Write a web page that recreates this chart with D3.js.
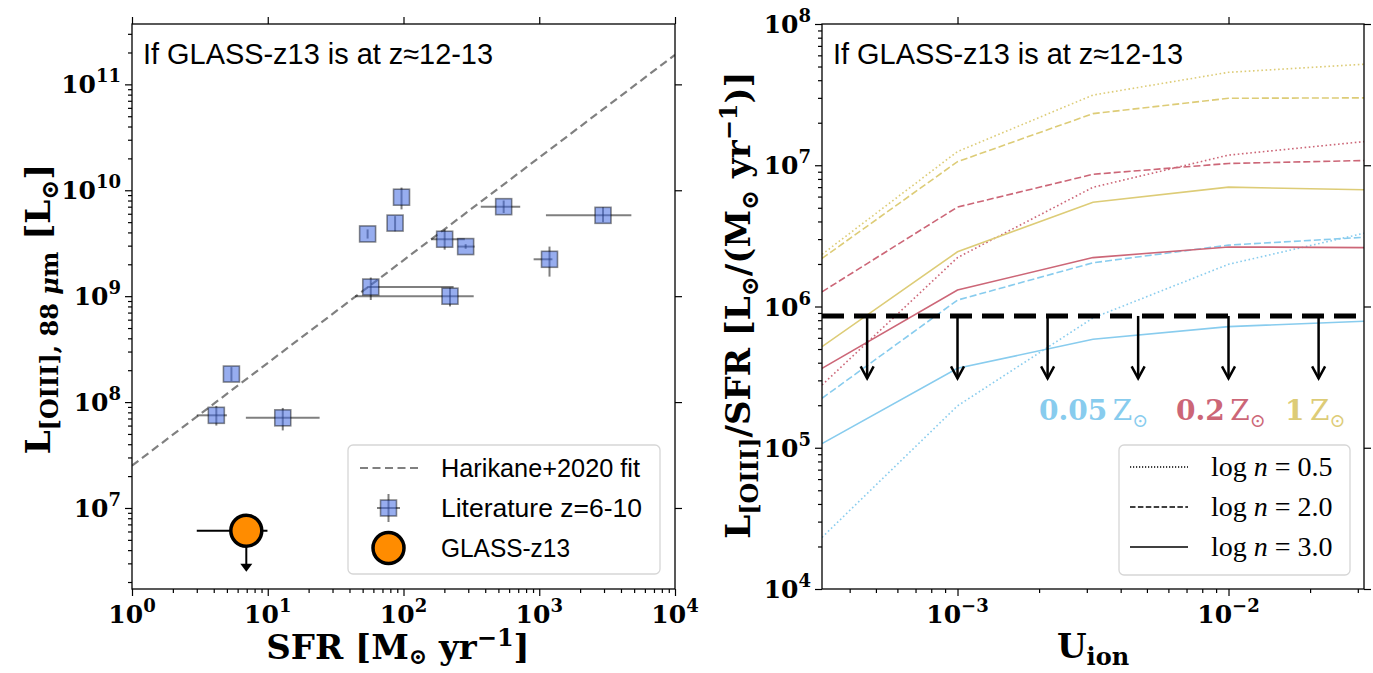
<!DOCTYPE html>
<html>
<head>
<meta charset="utf-8">
<script src="https://cdn.jsdelivr.net/npm/d3@7"></script>
<style>
body { margin: 0; background: #fff; }
</style>
</head>
<body>
<script>
var W = 1373, H = 673;

// ---- left panel: [OIII]88 vs SFR, literature z=6-10 ----
var litSFR   = [4.18, 5.40, 12.9, 54.4, 86.7, 96.7, 57.4, 220, 201, 287, 547, 1190, 2950];
var litSFRlo = [3.0, 5.40, 6.9, 54.4, 86.7, 96.7, 54, 44, 160, 251, 371, 909, 1120];
var litSFRhi = [5.0, 5.40, 24.1, 54.4, 86.7, 96.7, 234, 329, 283, 334, 724, 1250, 4770];
var litL     = [7.5e7, 1.84e8, 7.1e7, 3.87e9, 4.9e9, 8.6e9, 1.22e9, 1.0e9, 3.45e9, 2.94e9, 7.0e9, 2.23e9, 5.8e9];
var litLlo   = [6.0e7, 1.58e8, 5.4e7, 3.5e9, 4.1e9, 6.6e9, 9.2e8, 8.0e8, 2.75e9, 2.8e9, 6.1e9, 1.53e9, 5.0e9];
var litLhi   = [9.2e7, 2.14e8, 8.8e7, 4.27e9, 5.7e9, 1.06e10, 1.5e9, 1.2e9, 4.27e9, 3.1e9, 8.0e9, 2.94e9, 6.9e9];

// GLASS-z13 upper limit
var glassSFR = [6.95], glassSFRlo = [3.0], glassSFRhi = [9.95];
var glassL = [6.1e6], glassLlim = [2.5e6];

// Harikane+2020 fit end points
var fitSFR = [1, 1e4];
var fitL = [2.51e7, 1.9e11];

var xTicksL = [1, 10, 100, 1000, 1e4];
var yTicksL = [1e7, 1e8, 1e9, 1e10, 1e11];

// ---- right panel: L[OIII]/SFR vs U_ion ----
var uIon = [3.162e-4, 1e-3, 3.162e-3, 1e-2, 3.162e-2];
var blueN05 = [2.32e4, 1.98e5, 8.3e5, 1.99e6, 3.3e6];
var blueN20 = [2.24e5, 1.11e6, 2.04e6, 2.72e6, 3.09e6];
var blueN30 = [1.07e5, 3.65e5, 5.86e5, 7.2e5, 7.86e5];
var redN05  = [2.78e5, 2.22e6, 6.98e6, 1.18e7, 1.47e7];
var redN20  = [1.27e6, 5.06e6, 8.63e6, 1.03e7, 1.08e7];
var redN30  = [3.65e5, 1.31e6, 2.22e6, 2.64e6, 2.61e6];
var sandN05 = [2.34e6, 1.25e7, 3.14e7, 4.55e7, 5.19e7];
var sandN20 = [2.19e6, 1.06e7, 2.32e7, 2.98e7, 3.0e7];
var sandN30 = [5.2e5, 2.44e6, 5.47e6, 7.0e6, 6.7e6];

var metalLabels = ["0.05", "0.2", "1"];
var metalColors = ["#88ccee", "#cc6677", "#ddcc77"];
var densLabels = ["0.5", "2.0", "3.0"];
var densDash = ["1.6,2.6", "7,3", null];

var glassRatio = [8.57e5];
var arrowU = [4.64e-4, 1e-3, 2.15e-3, 4.64e-3, 1e-2, 2.15e-2];
var arrowEnd = 3.1e5;

var xTicksR = [1e-3, 1e-2];
var yTicksR = [1e4, 1e5, 1e6, 1e7, 1e8];

var series = [
  [blueN05, blueN20, blueN30],
  [redN05, redN20, redN30],
  [sandN05, sandN20, sandN30]
];

var mySVG = d3.select("body").append("svg")
  .attr("width", W).attr("height", H)
  .style("font-family", "DejaVu Serif");

var xL = d3.scaleLog().domain([1, 1e4]).range([132, 675]);
var yL = d3.scaleLog().domain([1.718e6, 3.715e11]).range([589, 24]);
var xR = d3.scaleLog().domain([3.162e-4, 3.162e-2]).range([822, 1364]);
var yR = d3.scaleLog().domain([1e4, 1e8]).range([589, 24]);

function minors(scale) {
  return scale.ticks().filter(function (v) {
    var e = Math.log10(v);
    return Math.abs(e - Math.round(e)) > 1e-6;
  });
}

function tidy(sel) {
  sel.select(".domain").remove();
  sel.selectAll("line").attr("stroke", "#000").attr("stroke-width", 1.2);
}

function drawFrame(x, y, xMaj, yMaj) {
  var x0 = x.range()[0], x1 = x.range()[1];
  var y0 = y.range()[0], y1 = y.range()[1];
  var g = mySVG.append("g");
  g.append("g").attr("transform", "translate(0," + y0 + ")")
    .call(d3.axisBottom(x).tickValues(xMaj).tickSize(7).tickFormat("")).call(tidy);
  g.append("g").attr("transform", "translate(0," + y0 + ")")
    .call(d3.axisBottom(x).tickValues(minors(x)).tickSize(4).tickFormat("")).call(tidy);
  g.append("g").attr("transform", "translate(0," + y1 + ")")
    .call(d3.axisTop(x).tickValues(xMaj).tickSize(7).tickFormat("")).call(tidy);
  g.append("g").attr("transform", "translate(" + x0 + ",0)")
    .call(d3.axisLeft(y).tickValues(yMaj).tickSize(7).tickFormat("")).call(tidy);
  g.append("g").attr("transform", "translate(" + x0 + ",0)")
    .call(d3.axisLeft(y).tickValues(minors(y)).tickSize(4).tickFormat("")).call(tidy);
  g.append("g").attr("transform", "translate(" + x1 + ",0)")
    .call(d3.axisRight(y).tickValues(yMaj).tickSize(7).tickFormat("")).call(tidy);
  g.append("rect")
    .attr("x", x0).attr("y", y1)
    .attr("width", x1 - x0).attr("height", y0 - y1)
    .attr("fill", "none").attr("stroke", "#000").attr("stroke-width", 1.3);

  // power-of-ten tick labels
  xMaj.forEach(function (v) {
    powLabel(x(v), y0 + 34, "middle", Math.round(Math.log10(v)));
  });
  yMaj.forEach(function (v) {
    powLabel(x0 - 11, y(v) + 9, "end", Math.round(Math.log10(v)));
  });
}

function powLabel(px, py, anchor, exp) {
  var t = mySVG.append("text")
    .attr("x", px).attr("y", py)
    .attr("text-anchor", anchor)
    .attr("font-weight", "bold")
    .attr("font-size", 25);
  t.append("tspan").text("10");
  t.append("tspan").attr("dy", -11).attr("font-size", 18)
    .text(exp < 0 ? "\u2212" + (-exp) : String(exp));
}

// ================= LEFT PANEL =================
mySVG.append("clipPath").attr("id", "clipL").append("rect")
  .attr("x", 132).attr("y", 24).attr("width", 543).attr("height", 565);
var gL = mySVG.append("g").attr("clip-path", "url(#clipL)");

// fit line
gL.append("line")
  .attr("x1", xL(fitSFR[0])).attr("y1", yL(fitL[0]))
  .attr("x2", xL(fitSFR[1])).attr("y2", yL(fitL[1]))
  .attr("stroke", "#808080").attr("stroke-width", 2.2)
  .attr("stroke-dasharray", "8,4.5");

// literature error bars
var idx = d3.range(litSFR.length);
gL.selectAll("line.xerr").data(idx).enter().append("line")
  .attr("x1", function (i) { return xL(litSFRlo[i]); })
  .attr("x2", function (i) { return xL(litSFRhi[i]); })
  .attr("y1", function (i) { return yL(litL[i]); })
  .attr("y2", function (i) { return yL(litL[i]); })
  .attr("stroke", "#000").attr("stroke-opacity", 0.5).attr("stroke-width", 2);
gL.selectAll("line.yerr").data(idx).enter().append("line")
  .attr("x1", function (i) { return xL(litSFR[i]); })
  .attr("x2", function (i) { return xL(litSFR[i]); })
  .attr("y1", function (i) { return yL(litLlo[i]); })
  .attr("y2", function (i) { return yL(litLhi[i]); })
  .attr("stroke", "#000").attr("stroke-opacity", 0.5).attr("stroke-width", 2);
gL.selectAll("rect.lit").data(idx).enter().append("rect")
  .attr("x", function (i) { return xL(litSFR[i]) - 8; })
  .attr("y", function (i) { return yL(litL[i]) - 8; })
  .attr("width", 16).attr("height", 16)
  .attr("fill", "royalblue").attr("fill-opacity", 0.55)
  .attr("stroke", "#000").attr("stroke-opacity", 0.45).attr("stroke-width", 1.6);

// GLASS-z13
gL.append("line")
  .attr("x1", xL(glassSFRlo[0])).attr("x2", xL(glassSFRhi[0]))
  .attr("y1", yL(glassL[0])).attr("y2", yL(glassL[0]))
  .attr("stroke", "#000").attr("stroke-width", 2);
gL.append("line")
  .attr("x1", xL(glassSFR[0])).attr("x2", xL(glassSFR[0]))
  .attr("y1", yL(glassL[0])).attr("y2", yL(glassLlim[0]) - 6)
  .attr("stroke", "#000").attr("stroke-width", 2);
var gx = xL(glassSFR[0]), gy = yL(glassLlim[0]);
gL.append("path")
  .attr("d", "M" + (gx - 6) + "," + (gy - 8) + "L" + (gx + 6) + "," + (gy - 8) + "L" + gx + "," + gy + "Z")
  .attr("fill", "#000");
gL.append("circle")
  .attr("cx", xL(glassSFR[0])).attr("cy", yL(glassL[0])).attr("r", 15.5)
  .attr("fill", "darkorange").attr("stroke", "#000").attr("stroke-width", 3.5);

drawFrame(xL, yL, xTicksL, yTicksL);

mySVG.append("text").attr("x", 143).attr("y", 64)
  .attr("font-family", "Liberation Sans").attr("font-size", 29)
  .attr("textLength", 350).attr("lengthAdjust", "spacingAndGlyphs")
  .text("If GLASS-z13 is at z\u224812-13");

// left legend
var legL = mySVG.append("g");
legL.append("rect").attr("x", 348).attr("y", 445).attr("width", 312).attr("height", 129)
  .attr("rx", 5).attr("fill", "#fff").attr("fill-opacity", 0.8)
  .attr("stroke", "#d6d6d6").attr("stroke-width", 1.3);
legL.append("line").attr("x1", 360).attr("x2", 419).attr("y1", 468).attr("y2", 468)
  .attr("stroke", "#808080").attr("stroke-width", 2.2).attr("stroke-dasharray", "8,4.5");
legL.append("line").attr("x1", 377).attr("x2", 400).attr("y1", 508).attr("y2", 508)
  .attr("stroke", "#000").attr("stroke-opacity", 0.5).attr("stroke-width", 2);
legL.append("line").attr("x1", 388.5).attr("x2", 388.5).attr("y1", 494).attr("y2", 522)
  .attr("stroke", "#000").attr("stroke-opacity", 0.5).attr("stroke-width", 2);
legL.append("rect").attr("x", 380.5).attr("y", 500).attr("width", 16).attr("height", 16)
  .attr("fill", "royalblue").attr("fill-opacity", 0.55)
  .attr("stroke", "#000").attr("stroke-opacity", 0.45).attr("stroke-width", 1.6);
legL.append("circle").attr("cx", 388.5).attr("cy", 548).attr("r", 15.5)
  .attr("fill", "darkorange").attr("stroke", "#000").attr("stroke-width", 3.5);
var legTextL = [["Harikane+2020 fit", 468, 199], ["Literature z=6-10", 508, 201], ["GLASS-z13", 548, 129]];
legTextL.forEach(function (d) {
  legL.append("text").attr("x", 441).attr("y", d[1] + 9)
    .attr("font-family", "Liberation Sans").attr("font-size", 25)
    .attr("textLength", d[2]).attr("lengthAdjust", "spacingAndGlyphs")
    .text(d[0]);
});

// left axis labels
var xlabL = mySVG.append("text").attr("x", 398).attr("y", 659)
  .attr("text-anchor", "middle").attr("font-weight", "bold").attr("font-size", 34);
xlabL.append("tspan").text("SFR [M");
xlabL.append("tspan").attr("dy", 5).attr("font-size", 22).text("\u2299");
xlabL.append("tspan").attr("dy", -5).text(" yr");
xlabL.append("tspan").attr("dy", -13).attr("font-size", 24).text("\u22121");
xlabL.append("tspan").attr("dy", 13).text("]");

var ylabL = mySVG.append("text")
  .attr("transform", "translate(50,309) rotate(-90)")
  .attr("text-anchor", "middle").attr("font-weight", "bold").attr("font-size", 34);
ylabL.append("tspan").text("L");
ylabL.append("tspan").attr("dy", 8).attr("font-size", 24).text("[OIII], 88 ");
ylabL.append("tspan").attr("font-size", 24).attr("font-style", "italic").text("\u03bc");
ylabL.append("tspan").attr("font-size", 24).text("m");
ylabL.append("tspan").attr("dy", -8).text(" [L");
ylabL.append("tspan").attr("dy", 8).attr("font-size", 24).text("\u2299");
ylabL.append("tspan").attr("dy", -8).text("]");

// ================= RIGHT PANEL =================
mySVG.append("clipPath").attr("id", "clipR").append("rect")
  .attr("x", 822).attr("y", 24).attr("width", 542).attr("height", 565);
var gR = mySVG.append("g").attr("clip-path", "url(#clipR)");

var lineR = d3.line()
  .x(function (d, i) { return xR(uIon[i]); })
  .y(function (d) { return yR(d); });

series.forEach(function (grp, m) {
  grp.forEach(function (vals, k) {
    gR.append("path").datum(vals)
      .attr("d", lineR)
      .attr("fill", "none")
      .attr("stroke", metalColors[m])
      .attr("stroke-width", 1.6)
      .attr("stroke-dasharray", densDash[k]);
  });
});

gR.append("line")
  .attr("x1", 822).attr("x2", 1364)
  .attr("y1", yR(glassRatio[0])).attr("y2", yR(glassRatio[0]))
  .attr("stroke", "#000").attr("stroke-width", 5)
  .attr("stroke-dasharray", "22,10");

gR.selectAll("g.arr").data(arrowU).enter().append("g").each(function (u) {
  var ax = xR(u), a0 = yR(glassRatio[0]), a1 = yR(arrowEnd);
  var g = d3.select(this);
  g.append("line").attr("x1", ax).attr("x2", ax).attr("y1", a0).attr("y2", a1)
    .attr("stroke", "#000").attr("stroke-width", 2.5);
  g.append("path")
    .attr("d", "M" + (ax - 6.5) + "," + (a1 - 12) + "L" + ax + "," + a1 + "L" + (ax + 6.5) + "," + (a1 - 12))
    .attr("fill", "none").attr("stroke", "#000").attr("stroke-width", 2.5);
});

drawFrame(xR, yR, xTicksR, yTicksR);

mySVG.append("text").attr("x", 833).attr("y", 64)
  .attr("font-family", "Liberation Sans").attr("font-size", 29)
  .attr("textLength", 350).attr("lengthAdjust", "spacingAndGlyphs")
  .text("If GLASS-z13 is at z\u224812-13");

// metallicity labels
var metalX = [1039, 1176, 1285];
metalLabels.forEach(function (lab, m) {
  var t = mySVG.append("text").attr("x", metalX[m]).attr("y", 420)
    .attr("fill", metalColors[m]).attr("font-size", 28);
  t.append("tspan").attr("font-weight", "bold").text(lab);
  t.append("tspan").text("\u2009Z");
  t.append("tspan").attr("dy", 7).attr("font-size", 19).text("\u2299");
});

// density legend
var legR = mySVG.append("g");
legR.append("rect").attr("x", 1119).attr("y", 445).attr("width", 231).attr("height", 130)
  .attr("rx", 5).attr("fill", "#fff").attr("fill-opacity", 0.8)
  .attr("stroke", "#d6d6d6").attr("stroke-width", 1.3);
densLabels.forEach(function (lab, k) {
  var ly = 467 + k * 40;
  legR.append("line").attr("x1", 1130).attr("x2", 1188).attr("y1", ly).attr("y2", ly)
    .attr("stroke", "#000").attr("stroke-width", 1.3)
    .attr("stroke-dasharray", k === 0 ? "1.2,1.8" : densDash[k] ? "5.5,2.4" : null);
  var t = legR.append("text").attr("x", 1211).attr("y", ly + 9)
    .attr("font-family", "Liberation Serif").attr("font-size", 28);
  t.append("tspan").text("log ");
  t.append("tspan").attr("font-style", "italic").text("n");
  t.append("tspan").text(" = " + lab);
});

// right axis labels
var xlabR = mySVG.append("text").attr("x", 1093).attr("y", 658)
  .attr("text-anchor", "middle").attr("font-weight", "bold").attr("font-size", 34);
xlabR.append("tspan").text("U");
xlabR.append("tspan").attr("dy", 7).attr("font-size", 24).text("ion");

var ylabR = mySVG.append("text")
  .attr("transform", "translate(750,305) rotate(-90)")
  .attr("text-anchor", "middle").attr("font-weight", "bold").attr("font-size", 34);
ylabR.append("tspan").text("L");
ylabR.append("tspan").attr("dy", 8).attr("font-size", 24).text("[OIII]");
ylabR.append("tspan").attr("dy", -8).text("/SFR [L");
ylabR.append("tspan").attr("dy", 8).attr("font-size", 24).text("\u2299");
ylabR.append("tspan").attr("dy", -8).text("/(M");
ylabR.append("tspan").attr("dy", 8).attr("font-size", 24).text("\u2299");
ylabR.append("tspan").attr("dy", -8).text(" yr");
ylabR.append("tspan").attr("dy", -13).attr("font-size", 24).text("\u22121");
ylabR.append("tspan").attr("dy", 13).text(")]");
</script>
</body>
</html>
